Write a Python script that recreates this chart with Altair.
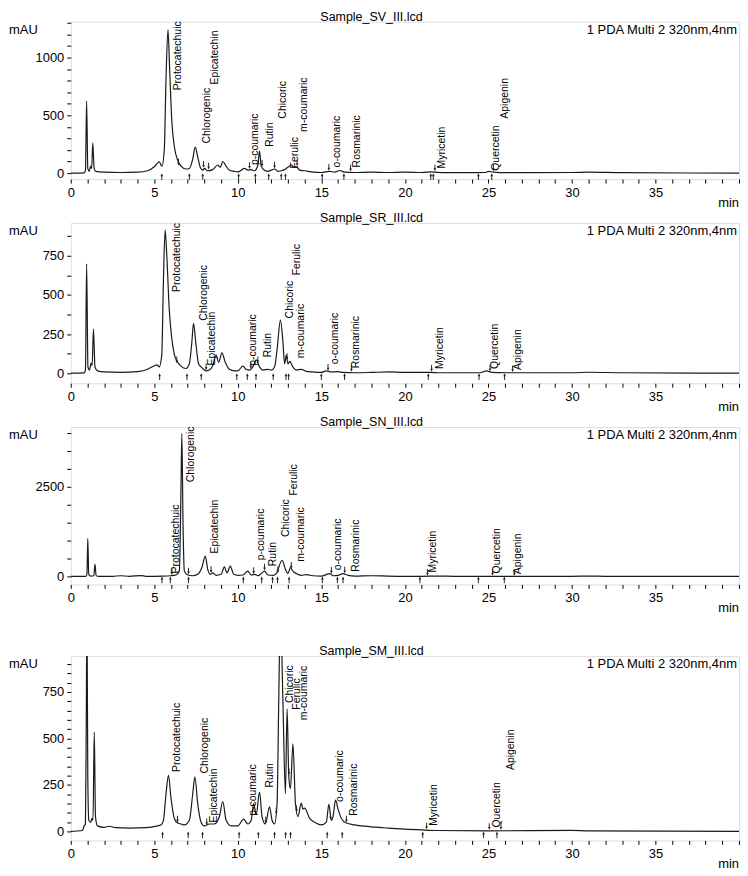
import altair as alt
import pandas as pd

FONT = "Liberation Sans"
W = 671

NAMES = ["Protocatechuic", "Chlorogenic", "Epicatechin", "p-coumaric", "Rutin",
         "Chicoric", "Ferulic", "m-coumaric", "o-coumaric", "Rosmarinic",
         "Myricetin", "Quercetin", "Apigenin"]

# ---------------- Panel 1: Sample_SV_III ----------------
P1_T = [0, 0.8, 0.88, 0.95, 1.02, 1.1, 1.2, 1.25, 1.32, 1.4,
        1.5, 2, 3, 4, 4.6, 5.0, 5.3, 5.45, 5.6, 5.7,
        5.82, 5.92, 6.05, 6.2, 6.4, 6.6, 6.9, 7.1, 7.3, 7.45,
        7.6, 7.75, 7.9, 8.0, 8.2, 8.5, 8.8, 8.95, 9.1, 9.3,
        9.5, 9.8, 10.0, 10.4, 10.6, 10.8, 11.0, 11.2, 11.3, 11.4,
        11.6, 11.8, 12.0, 12.2, 12.4, 12.6, 12.8, 13.0, 13.2, 13.35,
        13.5, 13.7, 14.0, 14.5, 15.0, 15.5, 15.8, 16.1, 16.4, 17,
        18, 19, 20, 21, 21.6, 21.8, 22.5, 24, 24.8, 25.0,
        25.3, 26, 30, 31, 33, 40]
P1_V = [0, 2, 20, 623, 40, 15, 60, 40, 260, 40,
        15, 8, 5, 8, 20, 55, 97, 60, 200, 800,
        1241, 900, 450, 230, 110, 60, 35, 40, 120, 224,
        140, 50, 25, 40, 20, 30, 70, 50, 100, 60,
        25, 15, 10, 40, 25, 30, 20, 70, 190, 60,
        25, 15, 25, 35, 15, 20, 30, 50, 70, 50,
        55, 25, 20, 8, 5, 15, 8, 22, 8, 5,
        8, 5, 8, 5, 10, 8, 3, 3, 5, 15,
        8, 3, 5, 8, 3, 0]
P1_LX = [6.44, 8.15, 8.64, 11.03, 11.92, 12.68, 13.41, 13.95, 15.94, 17.13, 22.2, 25.47, 25.97]
P1_LY = [716, 256, 767, 69, 227, 471, 40, 356, 49, 49, 40, 20, 471]
P1_UP = [5.45, 7.1, 7.9, 10.05, 11.05, 11.85, 12.6, 12.85, 15.05, 16.35, 21.55, 21.7, 24.4, 25.2]
P1_DN_T = [6.45, 7.95, 8.25, 10.7, 11.45, 12.2, 13.55, 15.45, 16.75, 21.8, 25.3]
P1_DN_V = [60, 40, 25, 30, 50, 35, 55, 15, 8, 10, 10]

# ---------------- Panel 2: Sample_SR_III ----------------
P2_T = [0, 0.8, 0.88, 0.95, 1.03, 1.12, 1.22, 1.28, 1.36, 1.45,
        1.6, 2, 3, 4, 4.6, 5.0, 5.15, 5.3, 5.45, 5.55,
        5.65, 5.75, 5.9, 6.05, 6.2, 6.4, 6.6, 6.9, 7.1, 7.25,
        7.35, 7.5, 7.65, 7.8, 7.95, 8.1, 8.3, 8.5, 8.7, 8.85,
        9.05, 9.25, 9.5, 9.8, 10.0, 10.3, 10.5, 10.7, 10.9, 11.1,
        11.3, 11.5, 11.8, 12.0, 12.2, 12.35, 12.55, 12.7, 12.8, 12.9,
        13.0, 13.1, 13.3, 13.5, 13.8, 14.1, 14.5, 15.0, 15.3, 15.6,
        16.0, 16.3, 17, 18, 19, 20, 21.5, 22, 24.5, 24.9,
        25.2, 26, 30, 31, 33, 40]
P2_V = [0, 2, 20, 699, 40, 20, 64, 50, 282, 40,
        15, 8, 5, 10, 25, 48, 53, 40, 120, 600,
        915, 750, 400, 220, 120, 70, 45, 30, 60, 200,
        318, 180, 60, 40, 25, 15, 20, 50, 115, 70,
        130, 70, 25, 15, 15, 45, 25, 20, 40, 85,
        40, 20, 25, 20, 40, 150, 339, 200, 60, 115,
        60, 75, 40, 20, 25, 12, 8, 5, 15, 8,
        10, 5, 3, 5, 8, 5, 5, 3, 3, 15,
        5, 3, 3, 6, 3, 0]
P2_LX = [6.36, 7.99, 8.45, 10.93, 11.82, 13.11, 13.55, 13.81, 15.80, 17.09, 22.1, 25.41, 26.77]
P2_LY = [519, 335, 49, 47, 102, 350, 625, 95, 57, 32, 27, 27, 21]
P2_UP = [5.32, 6.96, 7.81, 9.94, 10.57, 11.09, 12.12, 12.88, 13.04, 15.0, 16.39, 21.4, 24.44, 25.97]
P2_DN_T = [6.35, 8.1, 10.78, 11.2, 12.95, 15.4, 16.8, 21.6, 25.1, 26.45]
P2_DN_V = [60, 15, 25, 60, 80, 12, 5, 5, 8, 3]

# ---------------- Panel 3: Sample_SN_III ----------------
P3_T = [0, 0.9, 0.97, 1.02, 1.08, 1.2, 1.38, 1.45, 1.52, 1.7,
        2.5, 3.0, 3.5, 4.2, 4.5, 5.5, 6.0, 6.3, 6.5, 6.6,
        6.65, 6.72, 6.8, 7.0, 7.3, 7.6, 7.85, 8.05, 8.2, 8.35,
        8.5, 8.7, 9.0, 9.2, 9.35, 9.55, 9.75, 10.0, 10.3, 10.6,
        10.8, 11.0, 11.2, 11.45, 11.6, 11.8, 12.1, 12.3, 12.65, 12.85,
        13.0, 13.15, 13.3, 13.5, 13.8, 14.1, 14.5, 15.0, 15.5, 15.7,
        16.0, 16.3, 16.6, 17, 18, 19, 20, 21, 22, 23,
        30, 31, 32, 40]
P3_V = [0, 5, 60, 1055, 50, 10, 20, 343, 20, 5,
        5, 20, 5, 25, 5, 10, 20, 40, 150, 2500,
        3991, 1500, 150, 40, 20, 60, 250, 565, 200, 60,
        100, 30, 60, 270, 100, 290, 60, 30, 40, 150,
        40, 60, 20, 100, 150, 40, 30, 80, 453, 200,
        80, 250, 150, 80, 30, 50, 20, 10, 80, 20,
        30, 80, 30, 10, 20, 10, 5, 5, 10, 5,
        5, 10, 5, 0]
P3_LX = [6.30, 7.21, 8.64, 11.37, 12.08, 12.86, 13.37, 13.81, 16.0, 17.05, 21.7, 25.5, 26.8]
P3_LY = [83, 2630, 639, 453, 286, 1102, 2259, 408, 175, 130, 111, 83, 64]
P3_UP = [5.46, 5.96, 7.05, 10.33, 11.43, 12.08, 12.38, 13.07, 15.06, 15.96, 16.3, 20.9, 24.4, 25.95]
P3_DN_T = [6.05, 7.05, 8.4, 10.95, 11.6, 12.4, 13.2, 15.6, 16.4, 21.35, 25.25, 26.55]
P3_DN_V = [25, 40, 80, 50, 150, 80, 200, 60, 70, 5, 5, 5]

# ---------------- Panel 4: Sample_SM_III ----------------
P4_T = [0, 0.7, 0.8, 0.88, 0.93, 0.97, 1.02, 1.08, 1.2, 1.27,
        1.33, 1.41, 1.48, 1.6, 2.0, 2.3, 2.7, 3.5, 4.5, 5.2,
        5.4, 5.55, 5.7, 5.85, 6.0, 6.2, 6.4, 6.6, 6.8, 7.1,
        7.3, 7.43, 7.6, 7.8, 8.0, 8.3, 8.6, 8.9, 9.1, 9.3,
        9.6, 10.0, 10.35, 10.6, 10.8, 10.95, 11.1, 11.3, 11.45, 11.65,
        11.9, 12.05, 12.2, 12.35, 12.45, 12.55, 12.7, 12.85, 12.95, 13.05,
        13.15, 13.3, 13.45, 13.6, 13.8, 13.9, 14.0, 14.3, 14.6, 15.0,
        15.3, 15.45, 15.6, 15.7, 15.85, 16.0, 16.2, 16.5, 17.0, 18.0,
        18.5, 19.0, 20.0, 21.0, 22, 25, 30, 31, 40]
P4_V = [0, 5, 30, 40, 600, 1200, 300, 60, 50, 70,
        60, 534, 80, 30, 22, 28, 20, 18, 20, 30,
        35, 60, 200, 302, 180, 70, 45, 40, 35, 60,
        200, 293, 150, 50, 30, 40, 40, 80, 161, 60,
        30, 30, 66, 40, 60, 150, 90, 212, 80, 40,
        132, 60, 40, 150, 700, 1200, 700, 203, 660, 300,
        230, 471, 150, 80, 152, 120, 125, 70, 50, 35,
        50, 146, 60, 80, 168, 120, 70, 45, 35, 25,
        22, 18, 12, 8, 5, 3, 6, 3, 0]
P4_LX = [6.39, 8.02, 8.58, 10.93, 11.93, 13.12, 13.56, 13.96, 16.11, 16.98, 21.76, 25.49, 26.34]
P4_LY = [320, 312, 48, 84, 236, 691, 655, 598, 159, 84, 30, 21, 330]
P4_UP = [5.5, 7.03, 7.89, 10.08, 11.23, 12.2, 12.86, 13.16, 15.35, 16.25, 21.07, 24.71, 25.51]
P4_DN_T = [6.39, 8.14, 11.67, 12.3, 13.06, 13.52, 15.55, 16.5, 21.3, 25.05, 25.75]
P4_DN_V = [45, 30, 40, 90, 300, 100, 60, 45, 8, 5, 5]


def panel(title, T, V, LX, LY, UP, DNT, DNV, ydom, ytop, ystep, ylab, h):
    x_enc = alt.X(
        "t:Q",
        scale=alt.Scale(domain=[0, 40], nice=False, zero=False),
        axis=alt.Axis(
            values=list(range(0, 41)),
            labelExpr="datum.value % 5 == 0 && datum.value < 40 ? datum.label : ''",
            tickSize=4, labelPadding=3, grid=False, domain=False,
            labelFont=FONT, labelFontSize=13, labelColor="black",
            tickColor="black", labelOverlap=False, labelFlush=False,
        ),
        title=None,
    )
    y_enc = alt.Y(
        "v:Q",
        scale=alt.Scale(domain=ydom, nice=False, zero=False),
        axis=alt.Axis(
            values=list(range(0, ytop + 1, ystep)),
            labelExpr=f"datum.value % {ylab} == 0 ? datum.label : ''",
            format="d", tickSize=4, labelPadding=3, grid=False, domain=False,
            labelFont=FONT, labelFontSize=13, labelColor="black",
            tickColor="black", labelOverlap=False,
        ),
        title=None,
    )

    trace = alt.Chart(pd.DataFrame({"t": T, "v": V})).mark_line(
        color="#1a1a1a", strokeWidth=1.2, clip=True, interpolate="monotone"
    ).encode(x=x_enc, y=y_enc)

    labels = alt.Chart(pd.DataFrame({"t": LX, "v": LY, "name": NAMES})).mark_text(
        angle=270, align="left", baseline="middle", fontSize=10.5,
        font=FONT, color="black"
    ).encode(x=x_enc, y=y_enc, text="name:N")

    up = alt.Chart(pd.DataFrame({"t": UP, "v": [0] * len(UP)})).mark_point(
        shape="arrow", filled=True, size=45, color="#222", opacity=1, yOffset=3.5
    ).encode(x=x_enc, y=y_enc)

    dn = alt.Chart(pd.DataFrame({"t": DNT, "v": DNV})).mark_point(
        shape="arrow", filled=True, size=45, color="#222", opacity=1,
        angle=180, yOffset=-4
    ).encode(x=x_enc, y=y_enc)

    def txt(s, x, y, align, size=13):
        return alt.Chart(pd.DataFrame({"s": [s]})).mark_text(
            align=align, baseline="alphabetic", fontSize=size, font=FONT,
            color="black"
        ).encode(x=alt.value(x), y=alt.value(y), text="s:N")

    layers = [
        trace, labels, up, dn,
        txt(title, 302, -1, "center", 12.5),
        txt("1 PDA Multi 2 320nm,4nm", 669, 12, "right"),
        txt("mAU", -62, 12, "left"),
        txt("min", W, h + 28, "right"),
    ]
    return alt.layer(*layers).properties(width=W, height=h)


p1 = panel("Sample_SV_III.lcd", P1_T, P1_V, P1_LX, P1_LY, P1_UP, P1_DN_T, P1_DN_V,
           [-52, 1310], 1300, 100, 500, 158)
p2 = panel("Sample_SR_III.lcd", P2_T, P2_V, P2_LX, P2_LY, P2_UP, P2_DN_T, P2_DN_V,
           [-64, 960], 875, 125, 250, 161)
p3 = panel("Sample_SN_III.lcd", P3_T, P3_V, P3_LX, P3_LY, P3_UP, P3_DN_T, P3_DN_V,
           [-222, 4170], 4000, 500, 2500, 158)
p4 = panel("Sample_SM_III.lcd", P4_T, P4_V, P4_LX, P4_LY, P4_UP, P4_DN_T, P4_DN_V,
           [-48, 943], 900, 50, 250, 185)

chart = alt.vconcat(
    alt.vconcat(p1, p2, p3, spacing=0),
    p4,
    spacing=28,
).properties(padding=0).configure_view(
    stroke="black", strokeWidth=1
).configure(background="white")

chart.save("out.html", embed_options={"renderer": "svg", "actions": False})
